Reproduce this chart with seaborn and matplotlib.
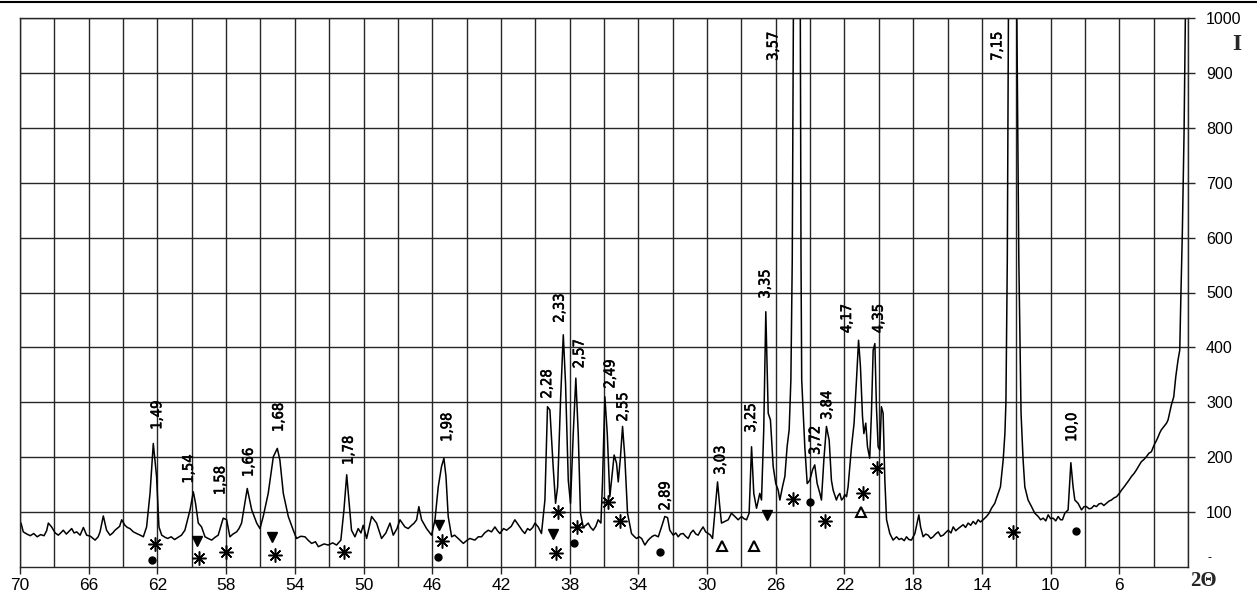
import numpy as np
import pandas as pd
import matplotlib
matplotlib.use("Agg")
import matplotlib.pyplot as plt
import matplotlib.patheffects as pe
from matplotlib import font_manager
from matplotlib.lines import Line2D
import seaborn as sns

# ---- diffraction pattern (2-theta, intensity) ----
two_theta = [
    69.94, 69.81, 69.6, 69.4, 69.2, 69.0, 68.8, 68.6, 68.45, 68.35, 68.16, 67.95, 67.77, 67.6, 67.48, 67.3,
    66.99, 66.85, 66.70, 66.5, 66.31, 66.12, 65.9, 65.63, 65.45, 65.34, 65.15, 64.96, 64.76, 64.6, 64.47,
    64.2, 64.08, 63.89, 63.75, 63.60, 63.4, 63.21, 63.0, 62.82, 62.63, 62.43, 62.24, 62.05, 61.91, 61.75,
    61.55, 61.4, 61.2, 61.0, 60.8, 60.6, 60.40, 60.10, 59.91, 59.78, 59.62, 59.43, 59.23, 59.05, 58.84,
    58.65, 58.46, 58.17, 57.97, 57.78, 57.6, 57.39, 57.25, 57.10, 56.77, 56.51, 56.22, 56.03, 55.84,
    55.55, 55.25, 55.02, 54.87, 54.67, 54.38, 54.09, 53.90, 53.65, 53.41, 53.2, 53.02, 52.8, 52.63,
    52.3, 52.05, 51.8, 51.57, 51.32, 51.14, 50.98, 50.85, 50.70, 50.50, 50.31, 50.15, 50.02, 49.82,
    49.53, 49.24, 48.95, 48.7, 48.46, 48.27, 48.05, 47.88, 47.59, 47.4, 47.20, 47.05, 46.91, 46.78,
    46.62, 46.33, 46.04, 45.84, 45.65, 45.46, 45.32, 45.20, 45.07, 44.87, 44.7, 44.49, 44.19, 44.0,
    43.81, 43.52, 43.32, 43.13, 42.95, 42.74, 42.55, 42.35, 42.2, 42.06, 41.85, 41.67, 41.4, 41.19,
    40.90, 40.75, 40.61, 40.45, 40.31, 40.15, 40.02, 39.83, 39.64, 39.44, 39.29, 39.15, 38.96, 38.82,
    38.70, 38.53, 38.37, 38.24, 38.08, 37.95, 37.79, 37.64, 37.50, 37.37, 37.21, 37.05, 36.92, 36.78,
    36.63, 36.48, 36.34, 36.18, 36.09, 35.95, 35.81, 35.66, 35.52, 35.41, 35.27, 35.17, 35.04, 34.92,
    34.79, 34.63, 34.40, 34.25, 34.11, 33.95, 33.81, 33.62, 33.45, 33.33, 33.18, 33.04, 32.84, 32.65,
    32.46, 32.30, 32.17, 31.97, 31.82, 31.68, 31.55, 31.39, 31.25, 31.10, 30.95, 30.81, 30.65, 30.52,
    30.38, 30.23, 30.08, 29.93, 29.80, 29.68, 29.55, 29.39, 29.26, 29.16, 28.96, 28.77, 28.58, 28.38,
    28.19, 27.99, 27.85, 27.70, 27.55, 27.41, 27.28, 27.12, 26.93, 26.83, 26.70, 26.58, 26.44, 26.31,
    26.15, 26.00, 25.86, 25.76, 25.61, 25.47, 25.34, 25.22, 25.12, 25.04, 24.96, 24.85, 24.77, 24.68,
    24.58, 24.53, 24.49, 24.31, 24.17, 24.02, 23.86, 23.73, 23.59, 23.43, 23.34, 23.20, 23.05, 22.89,
    22.76, 22.66, 22.47, 22.37, 22.27, 22.17, 22.08, 21.98, 21.88, 21.79, 21.59, 21.44, 21.30, 21.18,
    21.07, 20.95, 20.87, 20.76, 20.66, 20.53, 20.43, 20.33, 20.23, 20.14, 20.04, 19.94, 19.85, 19.75,
    19.65, 19.55, 19.36, 19.17, 18.97, 18.82, 18.68, 18.52, 18.39, 18.25, 18.10, 17.90, 17.77, 17.67,
    17.57, 17.42, 17.27, 17.13, 16.98, 16.84, 16.70, 16.54, 16.40, 16.25, 16.10, 15.96, 15.80, 15.67,
    15.52, 15.38, 15.22, 15.09, 14.95, 14.80, 14.65, 14.51, 14.36, 14.22, 14.08, 13.93, 13.73, 13.58,
    13.44, 13.25, 13.05, 12.92, 12.76, 12.66, 12.60, 12.52, 12.44, 12.32, 12.22, 12.12, 11.99, 11.85,
    11.72, 11.60, 11.50, 11.31, 11.11, 10.92, 10.72, 10.58, 10.43, 10.28, 10.14, 10.00, 9.85, 9.70,
    9.56, 9.42, 9.31, 9.17, 8.98, 8.82, 8.69, 8.59, 8.40, 8.20, 8.05, 7.91, 7.76, 7.62, 7.47, 7.33,
    7.18, 7.04, 6.90, 6.75, 6.60, 6.46, 6.30, 6.16, 6.00, 5.87, 5.72, 5.58, 5.44, 5.29, 5.15, 5.00,
    4.85, 4.71, 4.56, 4.42, 4.28, 4.13, 4.03, 3.93, 3.84, 3.74, 3.65, 3.55, 3.40, 3.25, 3.16, 2.97,
    2.83, 2.71, 2.58, 2.48, 2.42, 2.33, 2.23, 2.15, 2.08,
]
intensity = [
    80, 64, 60, 57, 61, 55, 59, 57, 66, 80, 73, 62, 58, 63, 67, 60,
    70, 62, 64, 58, 72, 58, 56, 49, 55, 64, 93, 67, 58, 62, 67,
    74, 86, 76, 72, 70, 64, 61, 58, 55, 73, 134, 225, 165, 73, 58,
    54, 52, 55, 50, 54, 58, 67, 104, 137, 116, 80, 73, 55, 52, 49,
    54, 58, 89, 86, 55, 60, 64, 70, 80, 143, 104, 80, 70, 92,
    134, 201, 216, 195, 134, 92, 67, 52, 56, 55, 48, 43, 46, 37,
    42, 40, 44, 40, 49, 104, 168, 122, 67, 55, 70, 62, 76, 52,
    92, 80, 52, 62, 80, 58, 70, 86, 73, 70, 76, 80, 86, 110,
    86, 70, 58, 86, 146, 183, 198, 165, 92, 55, 58, 52, 43, 48,
    52, 49, 55, 55, 62, 67, 64, 73, 66, 61, 70, 67, 74, 86,
    73, 66, 61, 70, 67, 72, 80, 73, 61, 122, 292, 286, 183, 116,
    146, 304, 423, 335, 158, 116, 243, 344, 243, 98, 73, 76, 80, 72,
    67, 74, 86, 80, 152, 310, 243, 128, 171, 204, 189, 155, 201, 256,
    201, 98, 61, 56, 52, 55, 52, 40, 48, 52, 56, 58, 55, 73,
    92, 90, 67, 58, 62, 55, 60, 61, 56, 52, 62, 67, 60, 58,
    66, 73, 64, 61, 58, 52, 98, 155, 110, 80, 83, 86, 98, 92,
    86, 92, 88, 86, 98, 219, 134, 107, 134, 122, 250, 465, 280, 268,
    183, 152, 140, 122, 146, 165, 219, 250, 341, 560, 1100, 2000, 2500, 2000,
    1100, 560, 341, 219, 152, 158, 177, 186, 152, 134, 122, 195, 256, 231,
    158, 140, 122, 130, 134, 122, 125, 132, 128, 146, 219, 262, 341, 413,
    365, 274, 243, 262, 219, 198, 280, 395, 407, 292, 219, 213, 292, 280,
    158, 86, 61, 49, 55, 50, 52, 48, 55, 50, 49, 61, 80, 95,
    73, 55, 60, 58, 52, 55, 60, 64, 56, 58, 63, 67, 62, 73,
    66, 70, 74, 77, 72, 80, 76, 83, 78, 86, 82, 86, 92, 98,
    107, 116, 134, 146, 195, 243, 300, 560, 1100, 2000, 2500, 2000, 1100, 560,
    280, 195, 146, 122, 110, 98, 92, 86, 89, 84, 95, 88, 89, 84,
    92, 86, 86, 98, 104, 190, 146, 122, 116, 104, 110, 110, 106, 107, 112, 110,
    115, 116, 112, 116, 120, 122, 126, 128, 134, 140, 146, 152, 158, 165, 170, 177,
    185, 192, 196, 201, 207, 210, 218, 225, 230, 237, 244, 250, 256, 262, 268, 295,
    310, 347, 377, 395, 486, 608, 790, 999, 1300,
]

# ---- d-spacing labels (text, 2-theta, intensity at label base) ----
d_labels = ["1,49", "1,54", "1,58", "1,66", "1,68", "1,78", "1,98", "2,28", "2,33", "2,57",
            "2,49", "2,55", "2,89", "3,03", "3,25", "3,35", "3,57", "3,72", "3,84", "4,17",
            "4,35", "7,15", "10,0"]
d_label_x = [62.04, 60.20, 58.36, 56.71, 54.96, 50.89, 45.16, 39.34, 38.61, 37.46,
             35.66, 34.92, 32.46, 29.25, 27.47, 26.64, 26.17, 23.72, 23.04, 21.88,
             20.04, 13.13, 8.78]
d_label_y = [250, 152, 131, 164, 246, 186, 228, 307, 445, 362,
             325, 265, 103, 168, 245, 489, 922, 204, 268, 426,
             426, 922, 228]

# ---- phase symbols ----
star_x = [62.14, 59.58, 58.03, 55.16, 51.12, 45.46, 38.67, 38.82, 37.60, 35.76, 35.04,
          24.99, 23.14, 20.91, 20.13, 12.18]
star_y = [41, 16, 27, 21, 27, 47, 101, 26, 73, 119, 84, 124, 84, 134, 181, 64]
dot_x = [62.30, 45.65, 37.77, 32.75, 23.98, 8.53]
dot_y = [13, 18, 44, 27, 118, 66]
vee_x = [59.71, 55.31, 45.59, 38.96, 26.50]
vee_y = [47, 55, 76, 60, 94]
tri_x = [29.14, 27.28, 21.01]
tri_y = [38, 38, 101]

y_ticks = list(range(100, 1001, 100))
x_ticks = list(range(70, 5, -4))

sns.set_theme(style="white")
plt.rcParams["font.family"] = ["Liberation Sans", "DejaVu Sans"]


def _upright(f):
    name = f.fname.lower()
    return f.style == "normal" and "italic" not in name and "oblique" not in name


def condensed_font():
    """Pick an upright narrow sans face for the rotated peak labels, if one is installed."""
    fonts = [f for f in font_manager.fontManager.ttflist if _upright(f)]
    for f in fonts:
        if f.name == "Liberation Sans Narrow" and f.weight == 400:
            return font_manager.FontProperties(fname=f.fname)
    for stretch in ("condensed", "semi-condensed"):
        for f in fonts:
            if f.name in ("Noto Sans", "Open Sans", "Roboto") and f.stretch == stretch \
                    and f.weight in (400, 500):
                return font_manager.FontProperties(fname=f.fname)
    for f in fonts:
        base = f.fname.split("/")[-1]
        if ("Condensed" in base or "Narrow" in base) and "Bold" not in base \
                and "Light" not in base and "Extra" not in base and "Thin" not in base \
                and "Black" not in base:
            return font_manager.FontProperties(fname=f.fname)
    return None


narrow_prop = condensed_font()

fig = plt.figure(figsize=(12.57, 5.92), dpi=100)
ax = fig.add_axes([20 / 1257, 1 - 567 / 592, (1188 - 20) / 1257, (567 - 18) / 592])

df = pd.DataFrame({"two_theta": two_theta, "intensity": intensity})
sns.lineplot(data=df, x="two_theta", y="intensity", ax=ax, color="black",
             linewidth=1.1, estimator=None, sort=False)

ax.set_xlim(70, 2)
ax.set_ylim(0, 1000)

grid_color = "#262626"
ax.set_xticks(x_ticks)
ax.set_xticklabels([str(v) for v in x_ticks])
ax.set_xticks(np.arange(2, 71, 2), minor=True)
ax.set_yticks(y_ticks)
ax.set_yticklabels([str(v) for v in y_ticks])
ax.grid(True, which="both", axis="x", color=grid_color, linewidth=1.0)
ax.grid(True, which="major", axis="y", color=grid_color, linewidth=1.0)
ax.set_axisbelow(True)
ax.yaxis.tick_right()
ax.tick_params(axis="y", which="major", direction="out", length=5, width=1, color=grid_color,
               pad=8, labelsize=11.5, labelcolor="black", right=True, left=False)
ax.tick_params(axis="x", which="major", direction="out", length=5, width=1, color=grid_color,
               pad=3, labelsize=12.5, labelcolor="black", bottom=True)
ax.tick_params(axis="x", which="minor", length=0)
for side in ["left", "right", "bottom", "top"]:
    ax.spines[side].set_color(grid_color)
    ax.spines[side].set_linewidth(1.0)
ax.set_xlabel("")
ax.set_ylabel("")

# zero of the intensity scale is printed as a dash
ax.text(1.0 + 19 / 1168, 9 / 549, "-", transform=ax.transAxes, ha="left", va="center",
        fontsize=9, color="black")

mk = dict(linestyle="none", color="black", clip_on=False, zorder=4)
ax.plot(star_x, star_y, marker=(8, 2, 0), markersize=10, markeredgewidth=1.1, **mk)
ax.plot(dot_x, dot_y, marker="o", markersize=5, **mk)
ax.plot(vee_x, vee_y, marker="v", markersize=6.5, **mk)
ax.plot(tri_x, tri_y, marker="^", markersize=6.5, markerfacecolor="white",
        markeredgecolor="black", markeredgewidth=1.5, linestyle="none", zorder=4)

label_effect = [pe.withStroke(linewidth=0.4, foreground="black")]
for txt, lx, ly in zip(d_labels, d_label_x, d_label_y):
    if narrow_prop is not None:
        prop = narrow_prop.copy()
        prop.set_size(10.5)
    else:
        prop = font_manager.FontProperties(family=["Liberation Sans", "DejaVu Sans"], size=9.5)
    ax.text(lx, ly, txt, rotation=90, ha="center", va="bottom", color="black",
            fontproperties=prop, zorder=5, path_effects=label_effect)

# axis titles
fig.text(1203 / 1257, 1 - 581 / 592, "2\u0398", ha="center", va="center", fontsize=15,
         fontweight="bold", family=["Liberation Serif", "DejaVu Serif"])
fig.text(1237 / 1257, 1 - 45 / 592, "I", ha="center", va="center", fontsize=17,
         fontweight="bold", family=["Liberation Serif", "DejaVu Serif"])

# frame rule across the top of the figure
fig.add_artist(Line2D([0, 1], [1 - 1.5 / 592, 1 - 1.5 / 592], transform=fig.transFigure,
                      color="black", linewidth=1.5))

fig.savefig("out.png", dpi=100, facecolor="white")
